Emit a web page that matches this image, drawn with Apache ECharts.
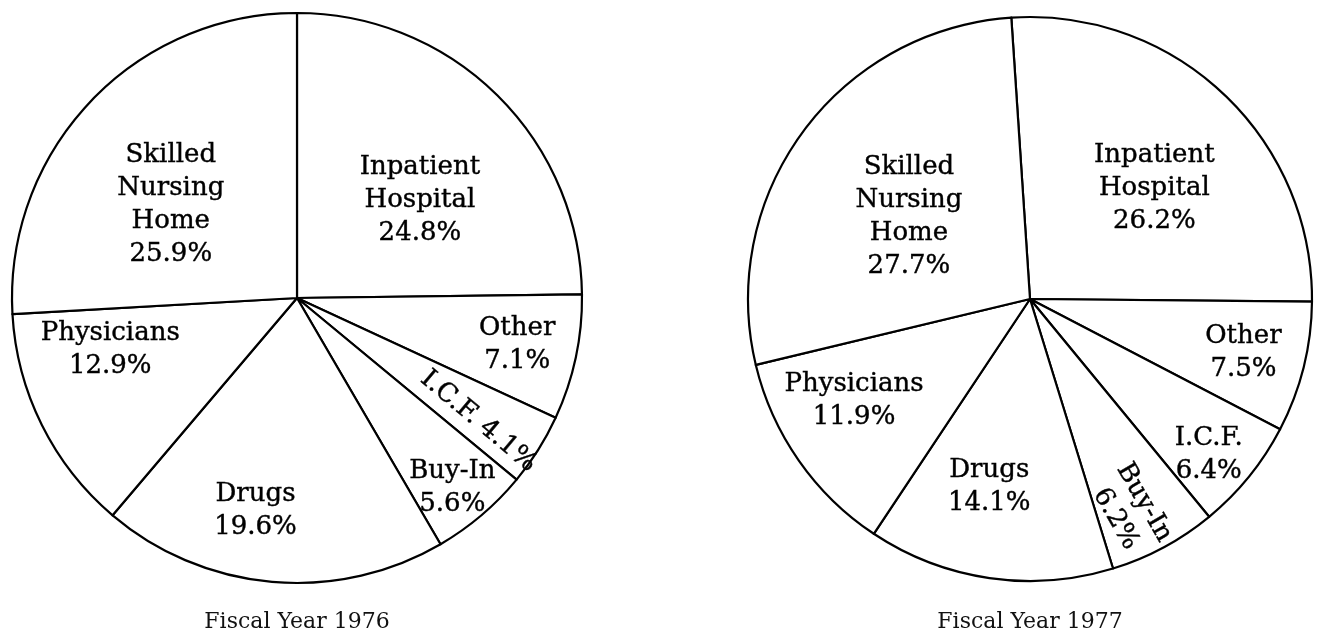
<!DOCTYPE html>
<html>
<head>
<meta charset="utf-8">
<script src="https://cdn.jsdelivr.net/npm/echarts@6/dist/echarts.min.js"></script>
<style>
html,body{margin:0;padding:0;background:#fff;}
#chart{width:1320px;height:636px;}
</style>
</head>
<body>
<div id="chart"></div>
<script>
// ---- data ----
const categories = ['Inpatient Hospital', 'Other', 'I.C.F.', 'Buy-In', 'Drugs', 'Physicians', 'Skilled Nursing Home'];
const labelNames = ['Inpatient\nHospital', 'Other', 'I.C.F.', 'Buy-In', 'Drugs', 'Physicians', 'Skilled\nNursing\nHome'];
const values1976 = [24.8, 7.1, 4.1, 5.6, 19.6, 12.9, 25.9];
const values1977 = [26.2, 7.5, 6.4, 6.2, 14.1, 11.9, 27.7];
const years = ['Fiscal Year 1976', 'Fiscal Year 1977'];

// ---- styles / layout ----
const pies = [
  { values: values1976, center: [297, 298], radius: 285, startAngle: 90,
    sep:    ['\n', '\n', ' ', '\n', '\n', '\n', '\n'],
    rotate: [0, 0, -40, 0, 0, 0, 0],
    frac:   [0.55, 0.79, 0.77, 0.86, 0.76, 0.68, 0.55],
    shift:  [-7, 0, -2, -1, -6, -11, 7] },
  { values: values1977, center: [1030, 299], radius: 282, startAngle: 93.8,
    sep:    ['\n', '\n', '\n', '\n', '\n', '\n', '\n'],
    rotate: [0, 0, 0, -60, 0, 0, 0],
    frac:   [0.59, 0.78, 0.84, 0.83, 0.68, 0.72, 0.52],
    shift:  [-5, 0, -2, -3, -4, -5, 2] }
];

function labelPos(si, di) {
  const p = pies[si];
  const total = p.values.reduce((a, b) => a + b, 0);
  let a = p.startAngle;
  for (let i = 0; i < di; i++) a -= p.values[i] / total * 360;
  const mid = a - p.values[di] / total * 180 + p.shift[di];
  const r = p.radius * p.frac[di];
  const rad = mid * Math.PI / 180;
  return { x: p.center[0] + r * Math.cos(rad), y: p.center[1] - r * Math.sin(rad) };
}

const labelFont = { color: '#000', fontFamily: 'DejaVu Serif', fontSize: 26, lineHeight: 33,
                    textBorderColor: '#000', textBorderWidth: 0.4 };

const chart = echarts.init(document.getElementById('chart'), null, { renderer: 'canvas' });
chart.setOption({
  backgroundColor: '#fff',
  animation: false,
  graphic: years.map((t, i) => ({
    type: 'text',
    x: pies[i].center[0],
    y: 622,
    style: { text: t, fontFamily: 'DejaVu Serif', fontSize: 22, fill: '#111', align: 'center', verticalAlign: 'middle' }
  })),
  series: pies.map((p, si) => ({
    type: 'pie',
    center: p.center,
    radius: p.radius,
    startAngle: p.startAngle,
    clockwise: true,
    avoidLabelOverlap: false,
    silent: true,
    itemStyle: { color: '#fff', borderColor: '#000', borderWidth: 2.2 },
    emphasis: { disabled: true },
    labelLine: { show: false },
    label: Object.assign({ show: true, position: 'inside' }, labelFont),
    labelLayout: function (params) {
      const pos = labelPos(si, params.dataIndex);
      return { x: pos.x, y: pos.y, align: 'center', verticalAlign: 'middle' };
    },
    data: p.values.map((v, di) => ({
      name: categories[di],
      value: v,
      label: {
        rotate: p.rotate[di],
        formatter: labelNames[di] + p.sep[di] + v.toFixed(1) + '%'
      }
    }))
  }))
});
</script>
</body>
</html>
